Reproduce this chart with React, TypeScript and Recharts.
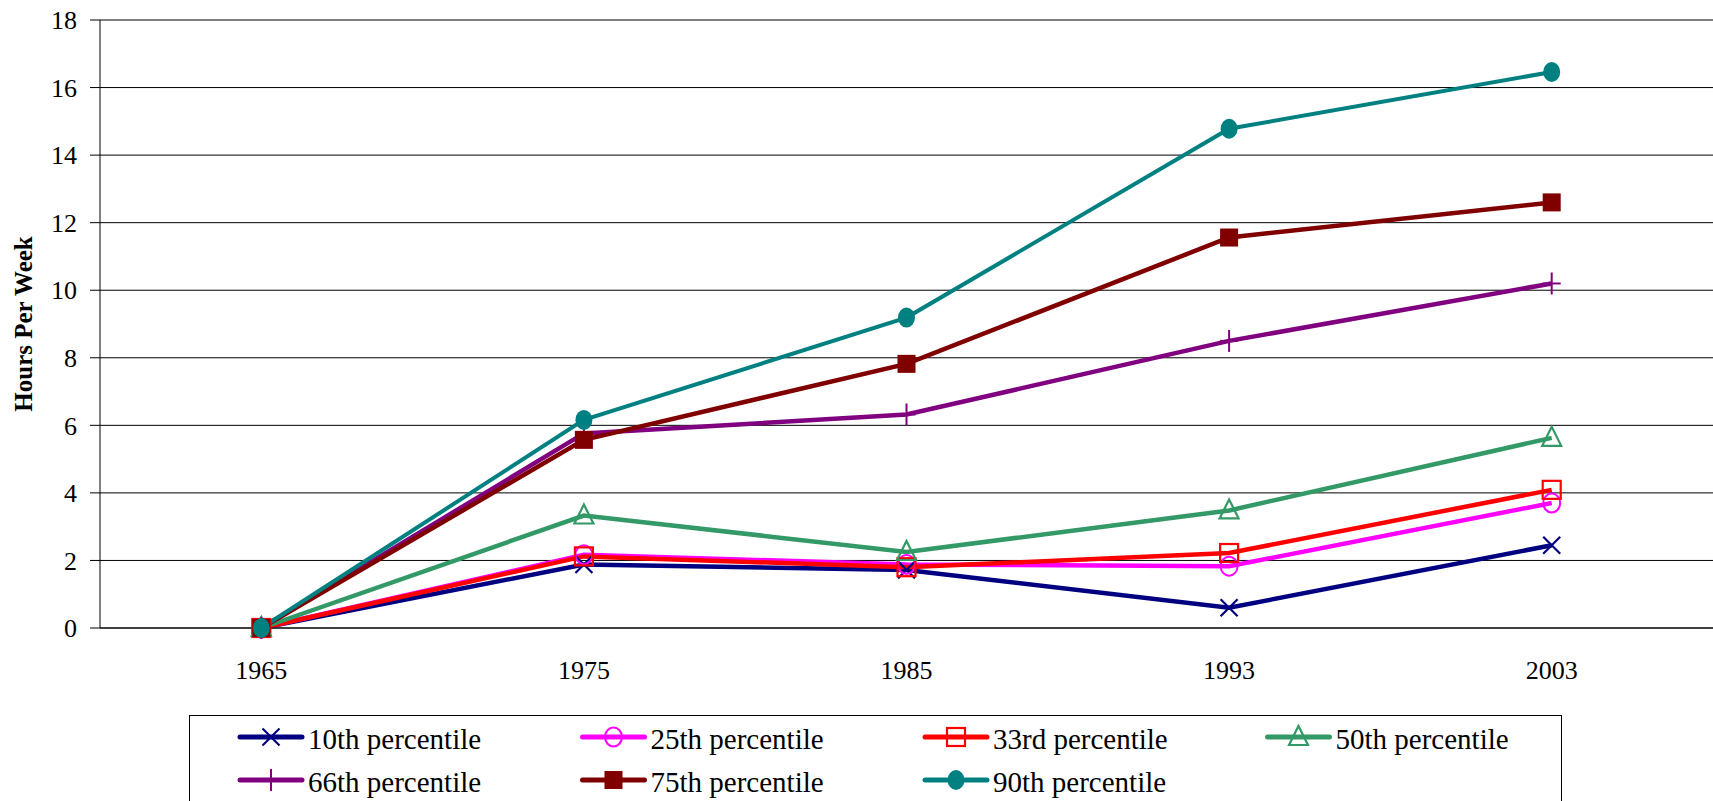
import { LineChart, Line, XAxis, YAxis, CartesianGrid, Label } from "recharts";

const YEARS = ["1965", "1975", "1985", "1993", "2003"];

const P10 = [0, 1.88, 1.72, 0.6, 2.45];
const P25 = [0, 2.17, 1.88, 1.83, 3.7];
const P33 = [0, 2.12, 1.8, 2.22, 4.09];
const P50 = [0, 3.33, 2.25, 3.48, 5.63];
const P66 = [0, 5.76, 6.32, 8.5, 10.2];
const P75 = [0, 5.57, 7.82, 11.56, 12.6];
const P90 = [0, 6.16, 9.19, 14.78, 16.46];

const Y_TICKS = [0, 2, 4, 6, 8, 10, 12, 14, 16, 18];

type MarkerKind = "x" | "circle" | "square" | "triangle" | "plus" | "squareFill" | "circleFill";

const SERIES: { key: string; name: string; color: string; marker: MarkerKind; values: number[]; width: number }[] = [
  { key: "p10", name: "10th percentile", color: "#000080", marker: "x", values: P10, width: 4.5 },
  { key: "p25", name: "25th percentile", color: "#FF00FF", marker: "circle", values: P25, width: 4.5 },
  { key: "p33", name: "33rd percentile", color: "#FF0000", marker: "square", values: P33, width: 4.5 },
  { key: "p50", name: "50th percentile", color: "#339966", marker: "triangle", values: P50, width: 4.5 },
  { key: "p66", name: "66th percentile", color: "#800080", marker: "plus", values: P66, width: 4.5 },
  { key: "p75", name: "75th percentile", color: "#800000", marker: "squareFill", values: P75, width: 4.5 },
  { key: "p90", name: "90th percentile", color: "#008080", marker: "circleFill", values: P90, width: 4 },
];

const data = YEARS.map((year, i) => {
  const row: Record<string, string | number> = { idx: i, year };
  SERIES.forEach((s) => {
    row[s.key] = s.values[i];
  });
  return row;
});

const FONT = "'Liberation Serif', 'Times New Roman', serif";

function Marker({ kind, cx, cy, color }: { kind: MarkerKind; cx: number; cy: number; color: string }) {
  switch (kind) {
    case "x":
      return (
        <g stroke={color} strokeWidth={2.2}>
          <line x1={cx - 8.5} y1={cy - 8.5} x2={cx + 8.5} y2={cy + 8.5} />
          <line x1={cx - 8.5} y1={cy + 8.5} x2={cx + 8.5} y2={cy - 8.5} />
        </g>
      );
    case "circle":
      return <ellipse cx={cx} cy={cy} rx={8.5} ry={9.5} fill="none" stroke={color} strokeWidth={2} />;
    case "square":
      return <rect x={cx - 9} y={cy - 9} width={18} height={18} fill="none" stroke={color} strokeWidth={2.2} />;
    case "triangle":
      return (
        <polygon
          points={`${cx},${cy - 11} ${cx + 9.5},${cy + 8} ${cx - 9.5},${cy + 8}`}
          fill="none"
          stroke={color}
          strokeWidth={2.2}
        />
      );
    case "plus":
      return (
        <g stroke={color} strokeWidth={2}>
          <line x1={cx} y1={cy - 11} x2={cx} y2={cy + 11} />
          <line x1={cx - 9} y1={cy} x2={cx + 9} y2={cy} />
        </g>
      );
    case "squareFill":
      return <rect x={cx - 9} y={cy - 9} width={18} height={18} fill={color} />;
    case "circleFill":
      return <ellipse cx={cx} cy={cy} rx={8.5} ry={10} fill={color} />;
  }
  return null;
}

const LEGEND_LEFT = 189;
const LEGEND_TOP = 715;
const LEGEND_COL0 = 240;
const LEGEND_COL_STEP = 342.5;
const LEGEND_ROWS = [737, 780];

function LegendBox() {
  return (
    <svg width={1713} height={801} style={{ position: "absolute", left: 0, top: 0, pointerEvents: "none" }}>
      <rect x={LEGEND_LEFT + 0.5} y={LEGEND_TOP + 0.5} width={1372} height={120} fill="none" stroke="#000" />
      {SERIES.map((s, i) => {
        const col = i % 4;
        const row = Math.floor(i / 4);
        const x0 = LEGEND_COL0 + col * LEGEND_COL_STEP;
        const cy = LEGEND_ROWS[row];
        return (
          <g key={s.key}>
            <line x1={x0} y1={cy} x2={x0 + 62} y2={cy} stroke={s.color} strokeWidth={5} strokeLinecap="round" />
            <Marker kind={s.marker} cx={x0 + 31} cy={cy} color={s.color} />
            <text x={x0 + 68} y={cy + 12} fontFamily={FONT} fontSize={29} fill="#000">
              {s.name}
            </text>
          </g>
        );
      })}
    </svg>
  );
}

const noTick = () => <g />;

export default function App() {
  return (
    <div style={{ position: "absolute", left: 0, top: 0, width: 1713, height: 801, overflow: "hidden", background: "#fff" }}>
      <LineChart width={1713} height={801} data={data} margin={{ top: 20, right: 0, left: 0, bottom: 0 }}>
        <CartesianGrid vertical={false} stroke="#000" strokeWidth={1} />
        <XAxis
          dataKey="idx"
          type="number"
          domain={[-0.5, 4.5]}
          ticks={[0, 1, 2, 3, 4]}
          interval={0}
          tickFormatter={(v: number) => YEARS[v]}
          tickLine={false}
          tickSize={0}
          tickMargin={33}
          height={173}
          axisLine={{ stroke: "#000" }}
          tick={{ fill: "#000", fontSize: 26, fontFamily: FONT }}
        />
        <XAxis
          xAxisId="edge"
          dataKey="idx"
          type="number"
          domain={[-0.5, 4.5]}
          ticks={[-0.5, 0.5, 1.5, 2.5, 3.5, 4.5]}
          interval={0}
          tickSize={10}
          tickLine={{ stroke: "#000" }}
          axisLine={false}
          height={0}
          tick={noTick}
        />
        <YAxis
          domain={[0, 18]}
          ticks={Y_TICKS}
          interval={0}
          width={100}
          tickSize={10}
          tickMargin={13}
          axisLine={{ stroke: "#000" }}
          tickLine={{ stroke: "#000" }}
          tick={{ fill: "#000", fontSize: 26, fontFamily: FONT }}
        >
          <Label
            content={() => (
              <text
                transform="translate(32,324) rotate(-90)"
                textAnchor="middle"
                fontFamily={FONT}
                fontWeight="bold"
                fontSize={25}
                fill="#000"
              >
                Hours Per Week
              </text>
            )}
          />
        </YAxis>
        {SERIES.map((s) => (
          <Line
            key={s.key}
            type="linear"
            dataKey={s.key}
            name={s.name}
            stroke={s.color}
            strokeWidth={s.width}
            isAnimationActive={false}
            activeDot={false}
            dot={(p: any) => (
              <Marker key={`${s.key}-${p.index}`} kind={s.marker} cx={p.cx} cy={p.cy} color={s.color} />
            )}
          />
        ))}
      </LineChart>
      <LegendBox />
    </div>
  );
}
